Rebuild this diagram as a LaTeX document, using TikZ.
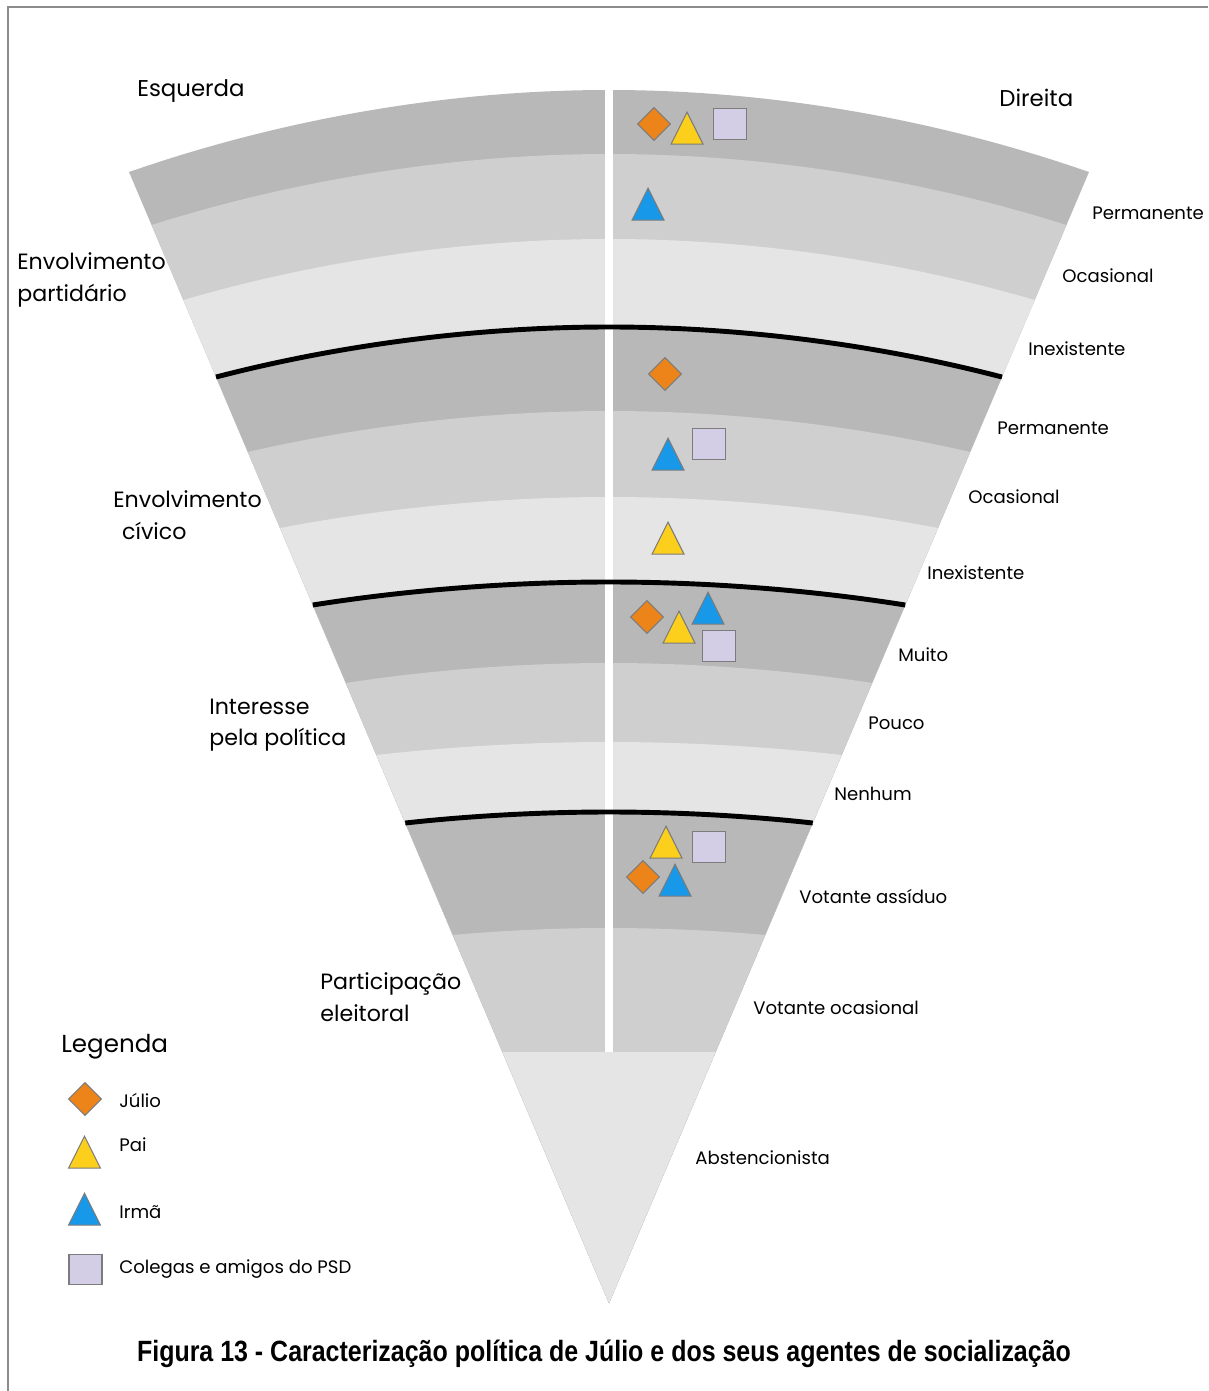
\documentclass[tikz,border=0pt]{standalone}
\usepackage{graphicx}
\usepackage{fontspec}
\setmainfont{Poppins}
\newfontfamily\captionfont{Liberation Sans}
\usetikzlibrary{shapes.geometric}
\definecolor{bandD}{HTML}{B8B8B8}
\definecolor{bandM}{HTML}{CFCFCF}
\definecolor{bandL}{HTML}{E5E5E5}
\definecolor{juliocol}{HTML}{EC8419}
\definecolor{paicol}{HTML}{FBCF1C}
\definecolor{irmacol}{HTML}{1798E8}
\definecolor{psdcol}{HTML}{D3CDE5}
\definecolor{edgecol}{HTML}{7C7C7C}
\definecolor{framecol}{HTML}{8C8C8C}
\tikzset{
	marker/.style={
			draw=edgecol,
			line width=0.6pt,
			inner sep=0pt
		},
	julionode/.style={
			marker,
			diamond,
			fill=juliocol,
			minimum size=0.66cm
		},
	trinode/.style={
			marker,
			isosceles triangle,
			isosceles triangle apex angle=53,
			isosceles triangle stretches,
			shape border rotate=90,
			minimum width=0.64cm,
			minimum height=0.64cm,
			anchor=apex
		},
	painode/.style={
			trinode,
			fill=paicol
		},
	irmanode/.style={
			trinode,
			fill=irmacol
		},
	psdnode/.style={
			marker,
			rectangle,
			fill=psdcol,
			minimum width=0.66cm,
			minimum height=0.61cm
		},
	sepline/.style={
			black,
			line width=2.8pt
		},
	levelnode/.style={
			font=\fontsize{10.3}{12}\selectfont,
			anchor=west,
			inner sep=0pt,
			text height=0.7em,
			text depth=0pt
		},
	titlenode/.style={
			font=\fontsize{12.6}{18}\selectfont,
			align=left,
			anchor=west,
			inner sep=0pt
		},
	sidenode/.style={
			font=\fontsize{13}{15}\selectfont,
			anchor=west,
			inner sep=0pt,
			text height=0.7em,
			text depth=0pt
		},
	legendnode/.style={
			levelnode
		}
}
\begin{document}
\begin{tikzpicture}[x=0.02cm, y=-0.02cm]
\useasboundingbox (0,0) rectangle (1208,1391);
\fill[white] (0,0) rectangle (1208,1391);
\draw[framecol, line width=0.8pt] (8,1391) -- (8,7) -- (1208,7);

% the fan, painted from the top band down to the apex
\coordinate (apex) at (609,1303);
\foreach \ya/\ea/\c in {90/172/bandD, 154/225/bandM, 239/300/bandL,
		327/377/bandD, 411/452/bandM, 497/528/bandL,
		582/605/bandD, 663/683/bandM, 742/755/bandL,
		812/823/bandD, 928/935/bandM, 1052/1052/bandL}
	\fill[\c] ({609-0.4244*(1303-\ea)},\ea) parabola bend (609,\ya) ({609+0.4244*(1303-\ea)},\ea) -- (apex) -- cycle;

\draw[white, line width=4.5pt] (609,89) -- (609,1052);

\foreach \ya/\ea in {327/377, 582/605, 812/823}
	\draw[sepline] ({609-0.4244*(1303-\ea)},\ea) parabola bend (609,\ya) ({609+0.4244*(1303-\ea)},\ea);

% agents
\node[julionode] (j1) at (654,124) {};
\node[painode] (p1) at (687,111) {};
\node[psdnode] (s1) at (730,124) {};
\node[irmanode] (i1) at (648,187) {};

\node[julionode] (j2) at (665,374) {};
\node[irmanode] (i2) at (668,437) {};
\node[psdnode] (s2) at (709,444) {};
\node[painode] (p2) at (668,521) {};

\node[julionode] (j3) at (647,617) {};
\node[irmanode] (i3) at (708,591) {};
\node[painode] (p3) at (679,610) {};
\node[psdnode] (s3) at (719,646) {};

\node[painode] (p4) at (666,825) {};
\node[psdnode] (s4) at (709,847) {};
\node[julionode] (j4) at (643,877) {};
\node[irmanode] (i4) at (675,863) {};

% sides and dimensions
\node[sidenode] (esq) at (137,90) {Esquerda};
\node[sidenode] (dir) at (999,100) {Direita};

\node[titlenode] (partid) at (17,280) {Envolvimento\\partidário};
\node[titlenode] (civico) at (113,515) {Envolvimento\\\hspace*{5pt}cívico};
\node[titlenode] (interesse) at (209,725) {Interesse\\pela política};
\node[titlenode] (eleitoral) at (320,997) {Participação\\eleitoral};

% levels
\node[levelnode] (perm1) at (1092,213) {Permanente};
\node[levelnode] (ocas1) at (1062,276) {Ocasional};
\node[levelnode] (inex1) at (1028,349) {Inexistente};
\node[levelnode] (perm2) at (997,428) {Permanente};
\node[levelnode] (ocas2) at (968,497) {Ocasional};
\node[levelnode] (inex2) at (927,573) {Inexistente};
\node[levelnode] (muito) at (898,655) {Muito};
\node[levelnode] (pouco) at (868,723) {Pouco};
\node[levelnode] (nenhum) at (834,794) {Nenhum};
\node[levelnode] (assiduo) at (799,897) {Votante assíduo};
\node[levelnode] (ocasvot) at (753,1008) {Votante ocasional};
\node[levelnode] (absten) at (695,1158) {Abstencionista};

% legend
\node[sidenode, font=\fontsize{14}{16}\selectfont] (legenda) at (61,1046) {Legenda};
\node[julionode] (lj) at (85,1099) {};
\node[legendnode] (ljt) at (119,1101) {Júlio};
\node[painode] (lp) at (84.5,1135) {};
\node[legendnode] (lpt) at (119,1145) {Pai};
\node[irmanode] (li) at (84.5,1192) {};
\node[legendnode] (lit) at (119,1212) {Irmã};
\node[psdnode] (ls) at (85.5,1269.5) {};
\node[legendnode] (lst) at (119,1267) {Colegas e amigos do PSD};

% caption
\node[inner sep=0pt] (caption) at (604,1354) {\captionfont\bfseries\resizebox{18.68cm}{0.43cm}{Figura 13 - Caracterização política de Júlio e dos seus agentes de socialização}};
\end{tikzpicture}
\end{document}
